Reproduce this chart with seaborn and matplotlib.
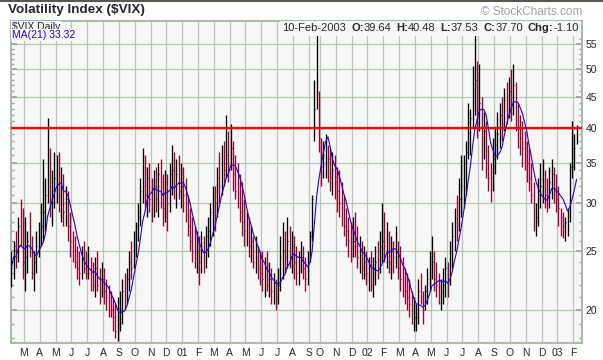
import matplotlib
matplotlib.use("Agg")
import matplotlib.pyplot as plt
from matplotlib import ticker
from matplotlib.lines import Line2D
from matplotlib.offsetbox import TextArea, HPacker, AnchoredOffsetbox
import numpy as np
import pandas as pd
import seaborn as sns

# month labels from Mar 2000 on (the first block is the partial Feb 2000)
month_labels = ["M", "A", "M", "J", "J", "A", "S", "O", "N", "D", "01", "F",
                "M", "A", "M", "J", "J", "A", "S", "O", "N", "D", "02", "F",
                "M", "A", "M", "J", "J", "A", "S", "O", "N", "D", "03", "F"]
# one bar per ~3 trading days; Sep 2001 was short (market closed after 9/11)
bars_in_month = [6] + [7] * 18 + [5] + [7] * 16 + [2]

highs = [
    25.0, 26.0, 27.0, 28.5, 30.5, 29.5,          # Feb 00
    28.5, 27.0, 29.0, 26.5, 25.0, 27.0, 28.0,    # Mar
    30.0, 35.5, 33.0, 41.5, 37.0, 34.0, 36.5,    # Apr
    36.0, 36.5, 34.5, 33.5, 32.0, 31.5, 29.0,    # May
    27.0, 26.5, 25.5, 25.0, 25.5, 26.0, 25.0,    # Jun
    25.5, 24.5, 24.0, 24.5, 25.0, 23.5, 24.0,    # Jul
    23.5, 22.5, 22.0, 21.5, 21.0, 20.5, 21.0,    # Aug
    21.5, 22.5, 23.0, 23.5, 25.0, 26.0, 27.0,    # Sep
    28.0, 30.0, 33.0, 37.0, 36.0, 34.5, 35.0,    # Oct
    33.0, 34.0, 34.5, 35.0, 35.5, 33.5, 34.0,    # Nov
    33.5, 35.0, 37.5, 36.5, 35.5, 36.0, 35.0,    # Dec
    34.5, 33.0, 31.0, 29.5, 28.5, 27.5, 27.0,    # Jan 01
    26.5, 27.0, 26.5, 27.5, 28.5, 30.0, 32.0,    # Feb
    32.0, 34.5, 36.5, 37.5, 38.0, 42.0, 39.5,    # Mar
    40.5, 38.0, 36.0, 35.0, 33.5, 32.5, 30.5,    # Apr
    29.0, 28.5, 27.5, 26.5, 26.5, 25.5, 25.0,    # May
    25.0, 24.5, 25.0, 24.0, 23.5, 23.0, 22.5,    # Jun
    23.5, 26.5, 28.0, 27.0, 28.5, 27.5, 27.0,    # Jul
    26.5, 25.5, 25.0, 26.0, 25.5, 24.5, 25.0,    # Aug
    27.0, 31.0, 48.0, 57.3, 46.0,                # Sep
    38.5, 38.0, 39.0, 37.5, 37.0, 36.5, 36.0,    # Oct
    34.5, 34.0, 32.5, 31.0, 29.5, 28.5, 28.0,    # Nov
    28.5, 29.0, 27.5, 26.5, 26.0, 25.5, 25.0,    # Dec
    24.5, 25.0, 24.5, 25.5, 26.0, 27.0, 30.0,    # Jan 02
    29.0, 28.0, 27.0, 26.5, 26.0, 27.5, 26.0,    # Feb
    25.5, 24.5, 23.5, 23.0, 22.5, 21.5, 21.0,    # Mar
    20.5, 22.5, 23.0, 21.5, 22.0, 23.5, 25.0,    # Apr
    26.5, 25.0, 24.0, 23.0, 22.5, 23.5, 24.5,    # May
    24.0, 26.0, 28.0, 29.5, 31.0, 33.0, 36.0,    # Jun
    36.0, 38.0, 44.0, 43.0, 50.5, 57.0, 51.5,    # Jul
    51.0, 45.0, 42.5, 41.0, 37.5, 35.0, 38.5,    # Aug
    40.0, 42.5, 44.0, 45.0, 46.5, 47.5, 48.5,    # Sep
    50.0, 51.0, 47.5, 44.0, 42.0, 41.0, 39.5,    # Oct
    38.0, 37.0, 35.0, 32.5, 30.0, 33.0, 35.0,    # Nov
    35.5, 34.0, 33.0, 34.5, 35.5, 34.5, 33.5,    # Dec
    32.0, 29.5, 29.0, 28.5, 29.5, 35.0, 41.0,    # Jan 03
    39.0, 40.48,                                 # Feb
]
lows = [
    21.8, 22.5, 23.5, 24.0, 25.5, 22.5,
    21.5, 23.0, 24.5, 22.5, 21.5, 23.0, 24.5,
    25.5, 26.0, 27.0, 30.0, 28.5, 27.5, 29.5,
    30.0, 29.0, 28.0, 27.5, 27.5, 26.0, 24.5,
    24.0, 23.5, 22.5, 22.0, 22.5, 23.0, 22.5,
    22.5, 21.5, 21.5, 21.0, 21.5, 20.5, 21.0,
    20.5, 20.0, 19.5, 19.5, 18.5, 18.0, 17.8,
    18.5, 19.0, 20.0, 20.5, 21.5, 22.5, 23.5,
    24.5, 26.0, 27.5, 30.0, 29.5, 28.5, 29.0,
    28.0, 28.5, 29.0, 28.5, 29.5, 27.5, 28.0,
    27.0, 29.0, 31.0, 30.5, 29.5, 30.5, 29.5,
    29.0, 28.0, 26.5, 25.0, 24.0, 23.5, 23.0,
    22.0, 23.0, 23.0, 23.5, 24.5, 25.5, 26.5,
    27.0, 28.5, 30.0, 31.0, 32.0, 33.0, 32.5,
    34.0, 31.5, 30.5, 29.5, 28.0, 26.5, 25.5,
    25.5, 24.5, 24.0, 23.5, 23.0, 22.5, 22.0,
    21.5, 21.0, 21.5, 21.0, 20.5, 20.5, 20.0,
    20.5, 21.5, 22.5, 23.0, 23.5, 23.5, 23.0,
    22.5, 22.0, 22.0, 23.0, 22.5, 21.5, 22.0,
    24.0, 26.0, 38.0, 43.0, 36.5,
    32.0, 33.0, 33.0, 32.5, 31.5, 31.0, 30.5,
    29.0, 28.5, 27.5, 26.5, 25.5, 24.5, 24.0,
    24.5, 24.5, 23.5, 23.0, 22.5, 22.5, 22.0,
    21.5, 21.5, 21.0, 22.0, 22.5, 23.0, 24.0,
    24.0, 23.5, 23.0, 22.5, 23.0, 23.5, 22.5,
    21.5, 21.0, 20.5, 20.0, 19.5, 19.0, 18.5,
    18.5, 19.0, 20.5, 19.0, 20.0, 20.5, 21.5,
    22.5, 21.5, 21.0, 20.5, 20.0, 20.5, 21.0,
    21.0, 22.0, 23.5, 25.0, 26.0, 27.0, 28.5,
    29.5, 31.0, 35.5, 36.0, 40.0, 42.0, 38.5,
    39.5, 34.0, 35.5, 33.0, 31.5, 30.2, 31.5,
    33.5, 35.5, 37.0, 38.0, 39.5, 40.5, 41.5,
    41.0, 42.0, 39.5, 37.0, 36.0, 34.5, 34.0,
    32.5, 31.5, 30.0, 27.0, 26.5, 27.5, 29.5,
    30.0, 29.5, 29.0, 29.5, 30.5, 30.0, 29.0,
    27.5, 26.5, 26.3, 26.0, 26.5, 28.0, 33.0,
    34.0, 37.53,
]
closes = [
    23.5, 25.5, 24.5, 27.5, 27.0, 24.0,
    24.5, 26.0, 25.0, 23.0, 24.0, 25.5, 27.0,
    27.5, 29.0, 31.0, 36.0, 30.5, 31.5, 33.0,
    33.0, 31.0, 32.0, 29.0, 30.5, 27.5, 26.0,
    25.0, 24.0, 23.5, 23.0, 24.5, 23.5, 23.0,
    23.0, 22.5, 22.0, 23.5, 22.0, 21.5, 22.5,
    21.5, 21.0, 20.5, 20.0, 19.5, 18.5, 19.0,
    20.0, 21.5, 21.0, 22.5, 24.0, 23.5, 26.0,
    27.5, 28.5, 31.5, 35.0, 31.0, 33.0, 30.5,
    29.5, 32.0, 30.5, 33.5, 31.0, 29.5, 32.5,
    30.0, 33.5, 34.0, 32.0, 33.5, 31.5, 32.0,
    31.0, 29.0, 27.5, 26.0, 25.0, 24.5, 25.0,
    24.0, 25.5, 24.0, 26.5, 27.0, 29.0, 30.5,
    30.0, 33.0, 32.0, 35.5, 34.0, 36.0, 35.0,
    37.0, 33.5, 31.5, 30.5, 29.0, 28.0, 27.0,
    27.5, 25.5, 26.0, 24.0, 25.0, 23.5, 23.0,
    22.5, 23.5, 22.0, 22.5, 21.5, 22.0, 21.0,
    22.0, 24.5, 25.0, 24.5, 26.0, 24.0, 25.5,
    24.0, 23.0, 24.0, 24.5, 23.5, 22.5, 23.5,
    26.5, 30.5, 43.0, 46.0, 38.5,
    34.5, 36.0, 37.0, 35.5, 33.0, 34.0, 32.5,
    31.5, 30.0, 29.5, 27.5, 27.0, 26.0, 25.0,
    26.0, 25.5, 24.5, 25.0, 23.5, 24.0, 23.0,
    23.0, 22.0, 23.5, 24.0, 23.0, 25.5, 26.0,
    25.5, 26.5, 24.0, 25.0, 24.5, 25.0, 23.5,
    22.5, 22.0, 21.5, 21.0, 20.5, 19.5, 19.5,
    19.5, 21.5, 21.0, 20.0, 21.5, 22.5, 23.0,
    24.0, 22.5, 22.0, 21.0, 21.5, 22.0, 23.5,
    22.5, 25.0, 26.5, 28.0, 27.5, 30.5, 32.0,
    33.5, 36.5, 40.0, 41.5, 47.0, 48.0, 42.0,
    44.0, 38.0, 39.5, 35.0, 33.0, 32.5, 35.5,
    37.5, 39.0, 42.0, 40.5, 44.5, 43.5, 46.0,
    45.0, 47.0, 42.5, 40.0, 38.5, 37.0, 36.0,
    35.0, 33.0, 31.0, 28.0, 28.5, 31.0, 32.0,
    32.0, 31.0, 30.0, 32.5, 33.5, 31.5, 30.5,
    29.5, 28.5, 27.5, 28.0, 28.5, 34.5, 37.0,
    37.0, 37.70,
]

sns.set_theme(style="white")
plt.rcParams["font.family"] = ["Liberation Sans", "DejaVu Sans"]

bg = "#f7f7f7"
grid_c = "#b4c8b4"
up_c, down_c = "black", "#990033"
ma_c = "#2a00d0"

df = pd.DataFrame({"high": highs, "low": lows, "close": closes})
df["x"] = np.arange(len(df))
df["ma"] = df["close"].rolling(7, min_periods=1).mean()
prev = df["close"].shift(1).fillna(df["close"])
df["color"] = np.where(df["close"] < prev, down_c, up_c)

fig = plt.figure(figsize=(6.03, 3.6), dpi=100)
ax = fig.add_axes([10.7 / 603, 17 / 360, 571.3 / 603, 322 / 360])
ax.set_facecolor(bg)

ax.vlines(df["x"], df["low"], df["high"], colors=df["color"], lw=0.95, zorder=3)
ax.hlines(df["close"], df["x"], df["x"] + 0.35, colors=df["color"], lw=0.8, zorder=3)
ax.axhline(40, color="red", lw=1.7, zorder=4)
sns.lineplot(data=df, x="x", y="ma", ax=ax, color=ma_c, lw=0.8, zorder=5)

# month gridlines sit at the first bar of each month
starts = np.cumsum([0] + bars_in_month[:-1])
ax.set_xticks(starts[1:] - 0.5)
ax.set_xticklabels(month_labels)
ax.set_xlim(-0.35, len(df) - 1 + 2.4)

ax.set_yscale("log")
ax.set_ylim(17.65, 60)
ax.yaxis.set_major_locator(ticker.FixedLocator([20, 25, 30, 35, 40, 45, 50, 55]))
ax.yaxis.set_minor_locator(ticker.FixedLocator(list(range(18, 60))))
ax.yaxis.set_major_formatter(ticker.FuncFormatter(lambda v, p: f"{v:.0f}"))
ax.yaxis.set_minor_formatter(ticker.NullFormatter())
ax.yaxis.tick_right()
ax.set_xlabel("")
ax.set_ylabel("")

ax.grid(True, which="major", color=grid_c, lw=0.9)
ax.set_axisbelow(True)
ax.tick_params(axis="x", which="major", length=2, direction="out", color=grid_c,
               labelsize=7.5, pad=1.5)
ax.tick_params(axis="y", which="both", direction="in", left=True, right=True,
               color="#a0a0a0", labelsize=7.5, pad=2.5)
ax.tick_params(axis="y", which="major", length=4)
ax.tick_params(axis="y", which="minor", length=2.5)
for s in ax.spines.values():
    s.set_color("#a8bea8")
    s.set_linewidth(1.5)

# titles and labels
fig.add_artist(Line2D([0, 1], [0.998, 0.998], transform=fig.transFigure,
                      color="#5c5650", lw=1.5))
fig.text(8 / 603, 1 - 4 / 360, "Volatility Index ($VIX)", fontsize=9.7,
         weight="bold", va="top", parse_math=False)
fig.text(582 / 603, 1 - 6 / 360, "\u00a9 StockCharts.com", fontsize=8.5,
         color="#a0a0a0", ha="right", va="top")
box = dict(fc=bg, ec="none", pad=0.6)
fig.text(11.5 / 603, 1 - 21.5 / 360, "$VIX Daily", fontsize=7.5, va="top",
         bbox=box, parse_math=False, zorder=6)
fig.text(12 / 603, 1 - 30 / 360, "MA(21) 33.32", fontsize=7.5, va="top",
         color=ma_c, bbox=box, zorder=6)

pieces = [[("10-Feb-2003", "normal")],
          [("O:", "bold"), ("39.64", "normal")],
          [("H:", "bold"), ("40.48", "normal")],
          [("L:", "bold"), ("37.53", "normal")],
          [("C:", "bold"), ("37.70", "normal")],
          [("Chg:", "bold"), ("-1.10", "normal")]]
groups = [HPacker(children=[TextArea(s, textprops=dict(fontsize=8, weight=w))
                            for s, w in grp], sep=0, align="baseline")
          for grp in pieces]
header = AnchoredOffsetbox(loc="upper right", child=HPacker(children=groups, sep=3.5,
                                                            align="baseline"),
                           bbox_to_anchor=(581 / 603, 1 - 21 / 360),
                           bbox_transform=fig.transFigure, borderpad=0, pad=0.15,
                           frameon=True)
header.patch.set_facecolor(bg)
header.patch.set_edgecolor("none")
header.set_zorder(6)
fig.add_artist(header)

fig.savefig("out.png", dpi=100)
